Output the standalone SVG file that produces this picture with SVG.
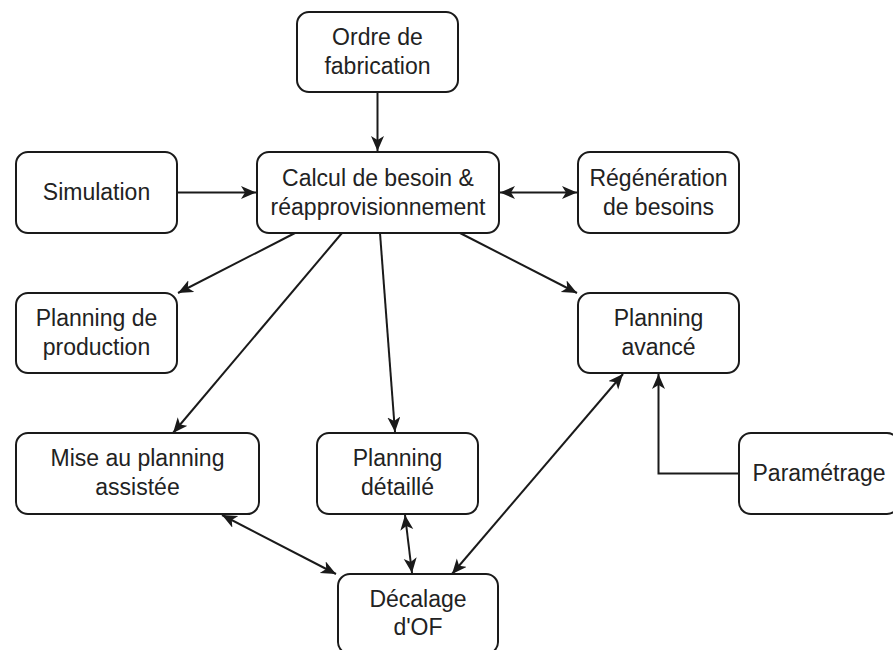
<svg xmlns="http://www.w3.org/2000/svg" width="893" height="650" viewBox="0 0 893 650">
<style>
  .box { fill: #ffffff; stroke: #1a1a1a; stroke-width: 2; }
  .lbl { font-family: "Liberation Sans", Arial, sans-serif; font-size: 23px; fill: #222222; text-anchor: middle; }
  .edge { fill: none; stroke: #1a1a1a; stroke-width: 2; }
</style>
<defs>
  <marker id="arr" markerUnits="userSpaceOnUse" markerWidth="16" markerHeight="14" refX="15" refY="6.5" orient="auto-start-reverse" viewBox="0 0 16 14">
    <path d="M0,0 L15,6.5 L0,13 L4,6.5 Z" fill="#1a1a1a"/>
  </marker>
</defs>
<rect width="893" height="650" fill="#ffffff"/>

<g id="edges">
  <path class="edge" d="M377.5,92 L377.5,151" marker-end="url(#arr)"/>
  <path class="edge" d="M177,192.5 L256,192.5" marker-end="url(#arr)"/>
  <path class="edge" d="M500,192.5 L577,192.5" marker-start="url(#arr)" marker-end="url(#arr)"/>
  <path class="edge" d="M295,233 L178,293" marker-end="url(#arr)"/>
  <path class="edge" d="M342,233 L173,433" marker-end="url(#arr)"/>
  <path class="edge" d="M380,233 L395,432" marker-end="url(#arr)"/>
  <path class="edge" d="M460,233 L577,293" marker-end="url(#arr)"/>
  <path class="edge" d="M222,515 L336,574" marker-start="url(#arr)" marker-end="url(#arr)"/>
  <path class="edge" d="M405,515 L412,573" marker-start="url(#arr)" marker-end="url(#arr)"/>
  <path class="edge" d="M623,374 L452,574" marker-start="url(#arr)" marker-end="url(#arr)"/>
  <path class="edge" d="M739,473.5 L658.5,473.5 L658.5,374" marker-end="url(#arr)"/>
</g>

<g id="ordre">
  <rect class="box" x="297" y="12" width="161" height="80" rx="12"/>
  <text class="lbl" x="377.5" y="45">Ordre de</text>
  <text class="lbl" x="377.5" y="74">fabrication</text>
</g>
<g id="simulation">
  <rect class="box" x="16" y="152" width="161" height="81" rx="12"/>
  <text class="lbl" x="96.5" y="200">Simulation</text>
</g>
<g id="calcul">
  <rect class="box" x="257" y="152" width="242" height="81" rx="12"/>
  <text class="lbl" x="378" y="185.5">Calcul de besoin &amp;</text>
  <text class="lbl" x="378" y="215">réapprovisionnement</text>
</g>
<g id="regeneration">
  <rect class="box" x="578" y="152" width="161" height="81" rx="12"/>
  <text class="lbl" x="658.5" y="185.5">Régénération</text>
  <text class="lbl" x="658.5" y="215">de besoins</text>
</g>
<g id="planning-production">
  <rect class="box" x="16" y="293" width="161" height="80" rx="12"/>
  <text class="lbl" x="96.5" y="326">Planning de</text>
  <text class="lbl" x="96.5" y="355">production</text>
</g>
<g id="planning-avance">
  <rect class="box" x="578" y="293" width="161" height="80" rx="12"/>
  <text class="lbl" x="658.5" y="326">Planning</text>
  <text class="lbl" x="658.5" y="355">avancé</text>
</g>
<g id="mise-au-planning">
  <rect class="box" x="16" y="433" width="243" height="81" rx="12"/>
  <text class="lbl" x="137.5" y="466">Mise au planning</text>
  <text class="lbl" x="137.5" y="495">assistée</text>
</g>
<g id="planning-detaille">
  <rect class="box" x="317" y="433" width="161" height="81" rx="12"/>
  <text class="lbl" x="397.5" y="466">Planning</text>
  <text class="lbl" x="397.5" y="495">détaillé</text>
</g>
<g id="parametrage">
  <rect class="box" x="739" y="433" width="160" height="81" rx="12"/>
  <text class="lbl" x="819" y="481">Paramétrage</text>
</g>
<g id="decalage">
  <rect class="box" x="338" y="574" width="160" height="80" rx="12"/>
  <text class="lbl" x="418" y="607">Décalage</text>
  <text class="lbl" x="418" y="635">d'OF</text>
</g>
</svg>
